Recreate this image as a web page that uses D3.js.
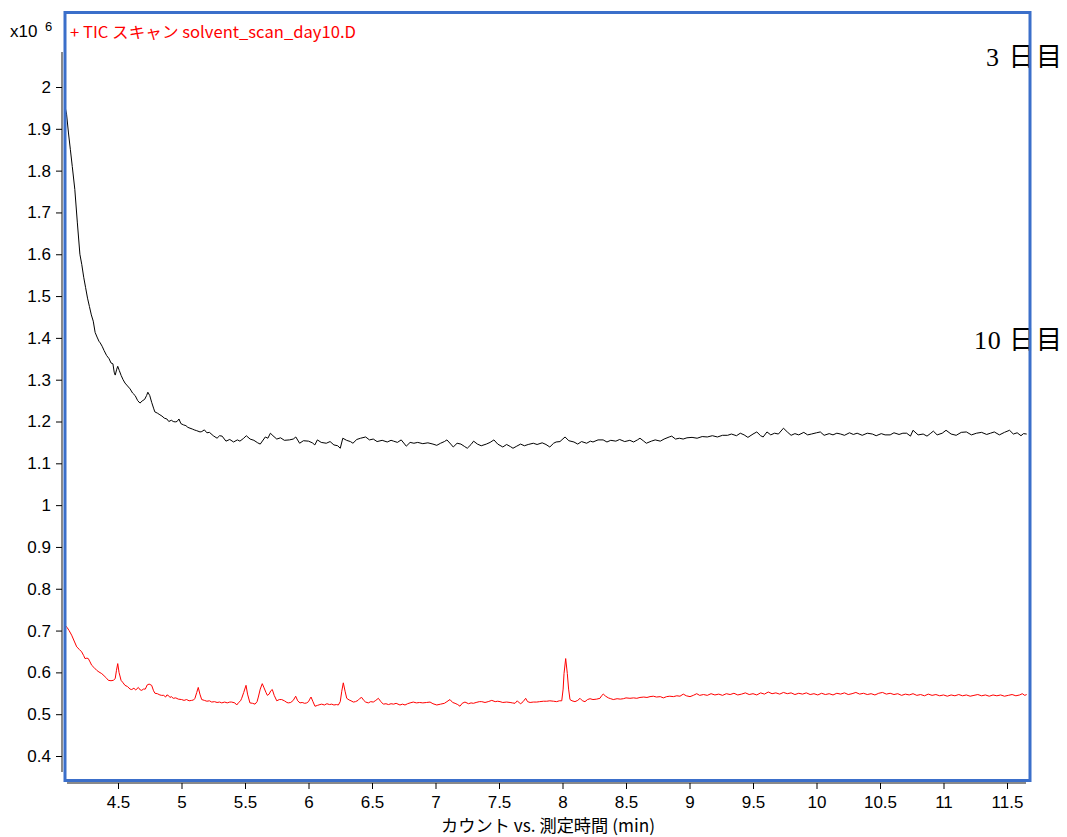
<!DOCTYPE html>
<html>
<head>
<meta charset="utf-8">
<script src="https://d3js.org/d3.v7.min.js"></script>
<style>
  body { margin: 0; background: #fff; }
  .tick text { font-family: "Liberation Sans Narrow", "Liberation Sans", Arial, sans-serif; font-size: 17px; fill: #000; }
</style>
</head>
<body>
<svg id="chart" width="1067" height="837"></svg>
<script>
// tick values for both axes
var xTicks = [4.5, 5, 5.5, 6, 6.5, 7, 7.5, 8, 8.5, 9, 9.5, 10, 10.5, 11, 11.5];
var yTicks = [0.4, 0.5, 0.6, 0.7, 0.8, 0.9, 1, 1.1, 1.2, 1.3, 1.4, 1.5, 1.6, 1.7, 1.8, 1.9, 2];

// 3 日目 (black) : [time (min), counts x10^6]
var day3 = [
  [4.085,1.950],[4.095,1.935],[4.11,1.89],[4.125,1.85],[4.14,1.81],[4.16,1.755],[4.18,1.675],[4.20,1.600],
  [4.215,1.575],[4.23,1.545],[4.245,1.52],[4.26,1.495],[4.275,1.475],[4.29,1.455],[4.305,1.440],[4.32,1.413],
  [4.335,1.402],[4.35,1.392],[4.36,1.388],[4.375,1.380],[4.39,1.370],[4.41,1.358],[4.43,1.350],[4.445,1.340],
  [4.46,1.338],[4.47,1.318],[4.478,1.311],[4.49,1.325],[4.498,1.332],[4.51,1.322],[4.525,1.310],[4.54,1.300],
  [4.555,1.292],[4.575,1.285],[4.595,1.278],[4.615,1.268],[4.635,1.262],[4.655,1.250],[4.673,1.244],[4.69,1.249],
  [4.71,1.253],[4.725,1.262],[4.735,1.270],[4.75,1.262],[4.765,1.246],[4.78,1.232],[4.79,1.223],[4.81,1.220],
  [4.83,1.216],[4.846,1.213],[4.865,1.208],[4.885,1.206],[4.90,1.200],[4.92,1.203],[4.935,1.200],[4.95,1.199],
  [4.965,1.200],[4.98,1.206],[4.995,1.195],[5.015,1.192],[5.035,1.190],[5.05,1.186],[5.067,1.184],[5.085,1.182],
  [5.10,1.180],[5.12,1.178],[5.146,1.175],[5.16,1.176],[5.18,1.180],[5.20,1.173],[5.22,1.174],[5.25,1.166],
  [5.28,1.160],[5.30,1.166],[5.32,1.165],[5.35,1.153],[5.38,1.157],[5.41,1.151],[5.44,1.156],[5.46,1.153],
  [5.49,1.160],[5.51,1.166],[5.54,1.158],[5.57,1.155],[5.60,1.149],[5.62,1.146],[5.66,1.163],[5.68,1.160],
  [5.70,1.172],[5.72,1.166],[5.75,1.158],[5.78,1.161],[5.81,1.155],[5.85,1.156],[5.88,1.158],[5.90,1.163],
  [5.93,1.148],[5.96,1.154],[6.00,1.153],[6.03,1.149],[6.05,1.144],[6.07,1.156],[6.10,1.150],[6.14,1.148],
  [6.17,1.152],[6.20,1.144],[6.23,1.142],[6.25,1.136],[6.27,1.160],[6.30,1.155],[6.33,1.152],[6.35,1.148],
  [6.38,1.157],[6.41,1.160],[6.45,1.163],[6.48,1.156],[6.51,1.158],[6.54,1.152],[6.58,1.155],[6.62,1.151],
  [6.65,1.155],[6.67,1.153],[6.70,1.150],[6.73,1.156],[6.77,1.141],[6.80,1.150],[6.83,1.148],[6.86,1.150],
  [6.90,1.147],[6.94,1.149],[6.98,1.146],[7.01,1.143],[7.04,1.148],[7.07,1.152],[7.09,1.156],[7.12,1.146],
  [7.14,1.139],[7.17,1.148],[7.20,1.146],[7.23,1.140],[7.25,1.136],[7.28,1.145],[7.30,1.153],[7.33,1.146],
  [7.36,1.142],[7.40,1.146],[7.43,1.150],[7.46,1.156],[7.49,1.146],[7.53,1.139],[7.56,1.145],[7.59,1.140],
  [7.61,1.136],[7.64,1.141],[7.67,1.146],[7.70,1.142],[7.73,1.145],[7.77,1.148],[7.80,1.145],[7.84,1.149],
  [7.87,1.145],[7.90,1.139],[7.93,1.148],[7.95,1.151],[7.98,1.152],[8.02,1.163],[8.05,1.154],[8.09,1.151],
  [8.12,1.146],[8.15,1.152],[8.19,1.148],[8.22,1.153],[8.24,1.151],[8.28,1.156],[8.32,1.156],[8.35,1.151],
  [8.38,1.155],[8.42,1.153],[8.45,1.157],[8.49,1.152],[8.53,1.155],[8.56,1.151],[8.59,1.156],[8.61,1.160],
  [8.64,1.153],[8.66,1.148],[8.70,1.153],[8.73,1.156],[8.77,1.153],[8.80,1.158],[8.84,1.163],[8.86,1.165],
  [8.89,1.158],[8.92,1.160],[8.95,1.158],[8.98,1.161],[9.02,1.162],[9.06,1.160],[9.10,1.164],[9.14,1.163],
  [9.18,1.166],[9.22,1.163],[9.26,1.167],[9.30,1.167],[9.33,1.170],[9.37,1.166],[9.40,1.172],[9.43,1.168],
  [9.46,1.162],[9.50,1.170],[9.53,1.175],[9.56,1.166],[9.58,1.163],[9.61,1.175],[9.64,1.168],[9.67,1.172],
  [9.70,1.170],[9.74,1.184],[9.77,1.175],[9.80,1.167],[9.83,1.171],[9.86,1.168],[9.90,1.174],[9.93,1.168],
  [9.96,1.170],[10.00,1.173],[10.03,1.175],[10.06,1.167],[10.10,1.171],[10.13,1.168],[10.16,1.172],[10.19,1.170],
  [10.22,1.167],[10.26,1.173],[10.29,1.169],[10.32,1.172],[10.36,1.167],[10.40,1.172],[10.44,1.170],[10.47,1.166],
  [10.51,1.171],[10.54,1.168],[10.58,1.168],[10.61,1.173],[10.65,1.169],[10.68,1.172],[10.71,1.172],[10.74,1.165],
  [10.76,1.179],[10.80,1.168],[10.84,1.170],[10.87,1.165],[10.90,1.172],[10.92,1.177],[10.95,1.168],[10.99,1.172],
  [11.02,1.179],[11.06,1.170],[11.10,1.167],[11.14,1.174],[11.18,1.175],[11.22,1.168],[11.26,1.172],[11.30,1.174],
  [11.34,1.169],[11.37,1.172],[11.40,1.175],[11.44,1.168],[11.48,1.174],[11.52,1.179],[11.55,1.170],[11.58,1.173],
  [11.61,1.166],[11.63,1.171],[11.655,1.170]
];

// 10 日目 (red)
var day10 = [
  [4.085,0.712],[4.10,0.707],[4.115,0.700],[4.135,0.689],[4.155,0.675],[4.175,0.661],[4.195,0.655],[4.214,0.649],
  [4.23,0.640],[4.24,0.633],[4.255,0.634],[4.266,0.633],[4.28,0.625],[4.293,0.617],[4.31,0.612],[4.332,0.605],
  [4.35,0.601],[4.372,0.597],[4.39,0.592],[4.41,0.586],[4.424,0.581],[4.445,0.580],[4.463,0.581],[4.478,0.585],
  [4.488,0.605],[4.498,0.621],[4.508,0.600],[4.524,0.581],[4.54,0.575],[4.555,0.569],[4.575,0.566],[4.595,0.560],
  [4.608,0.559],[4.625,0.562],[4.64,0.558],[4.66,0.564],[4.675,0.558],[4.687,0.557],[4.70,0.560],[4.715,0.560],
  [4.73,0.570],[4.745,0.572],[4.765,0.569],[4.78,0.556],[4.791,0.550],[4.81,0.549],[4.83,0.546],[4.844,0.545],
  [4.86,0.545],[4.875,0.541],[4.885,0.546],[4.896,0.545],[4.909,0.540],[4.92,0.542],[4.935,0.538],[4.955,0.539],
  [4.975,0.536],[5.001,0.535],[5.02,0.533],[5.04,0.535],[5.06,0.532],[5.08,0.533],[5.095,0.534],[5.106,0.538],
  [5.12,0.552],[5.132,0.564],[5.145,0.548],[5.159,0.535],[5.18,0.533],[5.20,0.531],[5.22,0.532],[5.238,0.529],
  [5.26,0.530],[5.28,0.528],[5.30,0.529],[5.317,0.527],[5.34,0.529],[5.36,0.527],[5.38,0.529],[5.395,0.529],
  [5.42,0.527],[5.435,0.522],[5.45,0.528],[5.465,0.532],[5.474,0.538],[5.49,0.552],[5.508,0.569],[5.52,0.548],
  [5.539,0.527],[5.56,0.526],[5.579,0.524],[5.595,0.530],[5.605,0.541],[5.62,0.560],[5.636,0.573],[5.65,0.563],
  [5.665,0.552],[5.676,0.545],[5.69,0.548],[5.703,0.556],[5.715,0.559],[5.73,0.545],[5.75,0.532],[5.77,0.535],
  [5.789,0.535],[5.81,0.532],[5.83,0.528],[5.841,0.527],[5.86,0.528],[5.88,0.533],[5.899,0.543],[5.915,0.532],
  [5.933,0.527],[5.95,0.528],[5.97,0.526],[5.986,0.527],[6.00,0.530],[6.01,0.536],[6.02,0.541],[6.035,0.530],
  [6.051,0.519],[6.07,0.521],[6.09,0.523],[6.104,0.524],[6.125,0.522],[6.145,0.525],[6.165,0.523],[6.183,0.524],
  [6.20,0.522],[6.22,0.523],[6.235,0.522],[6.25,0.530],[6.262,0.555],[6.274,0.575],[6.288,0.555],[6.301,0.538],
  [6.32,0.534],[6.335,0.532],[6.353,0.529],[6.37,0.530],[6.39,0.533],[6.405,0.538],[6.419,0.540],[6.435,0.533],
  [6.45,0.529],[6.471,0.527],[6.49,0.530],[6.51,0.529],[6.53,0.533],[6.55,0.538],[6.57,0.530],[6.589,0.524],
  [6.61,0.525],[6.63,0.523],[6.65,0.525],[6.67,0.524],[6.69,0.526],[6.72,0.522],[6.74,0.524],[6.76,0.522],
  [6.78,0.525],[6.80,0.527],[6.825,0.529],[6.85,0.527],[6.875,0.528],[6.90,0.527],[6.93,0.528],[6.957,0.529],
  [6.98,0.525],[7.01,0.522],[7.04,0.524],[7.07,0.526],[7.09,0.530],[7.114,0.535],[7.135,0.528],[7.154,0.526],
  [7.175,0.523],[7.193,0.519],[7.21,0.526],[7.232,0.529],[7.26,0.525],[7.28,0.527],[7.298,0.526],[7.32,0.528],
  [7.345,0.530],[7.364,0.530],[7.39,0.528],[7.415,0.530],[7.443,0.533],[7.47,0.530],[7.49,0.531],[7.508,0.530],
  [7.53,0.528],[7.56,0.529],[7.587,0.528],[7.605,0.527],[7.626,0.526],[7.644,0.532],[7.66,0.527],[7.671,0.525],
  [7.69,0.530],[7.71,0.538],[7.725,0.530],[7.745,0.528],[7.77,0.529],[7.797,0.529],[7.82,0.530],[7.85,0.531],
  [7.876,0.531],[7.90,0.532],[7.93,0.531],[7.954,0.530],[7.975,0.532],[7.994,0.532],[8.005,0.560],[8.012,0.597],
  [8.025,0.633],[8.038,0.597],[8.048,0.560],[8.059,0.535],[8.075,0.532],[8.098,0.530],[8.12,0.533],[8.138,0.538],
  [8.157,0.532],[8.177,0.530],[8.197,0.535],[8.217,0.537],[8.24,0.535],[8.269,0.536],[8.295,0.538],[8.31,0.545],
  [8.321,0.548],[8.34,0.543],[8.361,0.539],[8.38,0.537],[8.40,0.535],[8.43,0.537],[8.455,0.536],[8.479,0.537],
  [8.50,0.539],[8.531,0.538],[8.56,0.539],[8.585,0.538],[8.61,0.540],[8.64,0.541],[8.665,0.540],[8.689,0.542],
  [8.715,0.543],[8.74,0.541],[8.77,0.542],[8.794,0.539],[8.82,0.542],[8.845,0.543],[8.873,0.542],[8.90,0.544],
  [8.925,0.543],[8.951,0.548],[8.975,0.544],[9.004,0.542],[9.03,0.545],[9.057,0.549],[9.08,0.545],[9.11,0.547],
  [9.14,0.545],[9.17,0.549],[9.20,0.546],[9.23,0.548],[9.26,0.545],[9.29,0.549],[9.32,0.547],[9.35,0.550],
  [9.38,0.546],[9.41,0.548],[9.44,0.551],[9.47,0.547],[9.50,0.549],[9.53,0.546],[9.56,0.551],[9.59,0.548],
  [9.62,0.553],[9.65,0.549],[9.68,0.551],[9.71,0.548],[9.74,0.552],[9.77,0.549],[9.80,0.551],[9.83,0.547],
  [9.86,0.550],[9.89,0.548],[9.92,0.551],[9.95,0.547],[9.98,0.549],[10.01,0.546],[10.04,0.550],[10.07,0.547],
  [10.10,0.549],[10.13,0.546],[10.16,0.550],[10.19,0.548],[10.22,0.551],[10.25,0.547],[10.28,0.549],[10.31,0.552],
  [10.34,0.548],[10.37,0.550],[10.40,0.547],[10.43,0.549],[10.46,0.546],[10.49,0.550],[10.52,0.552],[10.55,0.548],
  [10.58,0.550],[10.61,0.547],[10.64,0.549],[10.67,0.545],[10.70,0.548],[10.73,0.546],[10.76,0.549],[10.79,0.545],
  [10.82,0.547],[10.85,0.544],[10.88,0.548],[10.91,0.545],[10.94,0.547],[10.97,0.544],[11.00,0.546],[11.03,0.543],
  [11.06,0.546],[11.09,0.544],[11.12,0.547],[11.15,0.544],[11.18,0.546],[11.21,0.543],[11.24,0.545],[11.27,0.547],
  [11.30,0.544],[11.33,0.546],[11.36,0.543],[11.39,0.546],[11.42,0.544],[11.45,0.546],[11.48,0.543],[11.51,0.545],
  [11.54,0.547],[11.57,0.544],[11.60,0.546],[11.62,0.549],[11.64,0.545],[11.655,0.547]
];

var legendText = "+ TIC スキャン solvent_scan_day10.D";
var xTitle = "カウント vs. 測定時間 (min)";
var labels = [{text: "3 日目", y: 2.072, len: 76}, {text: "10 日目", y: 1.395, len: 88}];

var svg = d3.select("#chart");

// scales
var x = d3.scaleLinear().domain([4.5, 11.5]).range([118, 1007]);
var y = d3.scaleLinear().domain([0.4, 2]).range([756, 87]);

// gray axis lines
svg.append("line")
  .attr("x1", 62).attr("x2", 62).attr("y1", 52).attr("y2", 772)
  .attr("stroke", "#8a8a8a").attr("stroke-width", 2);
svg.append("line")
  .attr("x1", 67).attr("x2", 1026).attr("y1", 783).attr("y2", 783)
  .attr("stroke", "#8a8a8a").attr("stroke-width", 2);

// y axis
var yAxis = svg.append("g")
  .attr("transform", "translate(62,0)")
  .call(d3.axisLeft(y).tickValues(yTicks).tickFormat(d3.format("~g")).tickSize(6).tickPadding(5).tickSizeOuter(0));
yAxis.select(".domain").remove();

// x axis
var xAxis = svg.append("g")
  .attr("transform", "translate(0,783)")
  .call(d3.axisBottom(x).tickValues(xTicks).tickFormat(d3.format("~g")).tickSize(6).tickPadding(7).tickSizeOuter(0));
xAxis.select(".domain").remove();

// x10^6 multiplier
svg.append("text")
  .attr("x", 10).attr("y", 37)
  .attr("font-family", "'Liberation Sans Narrow', 'Liberation Sans', sans-serif")
  .attr("font-size", 17)
  .text("x10");
svg.append("text")
  .attr("x", 45).attr("y", 31)
  .attr("font-family", "'Liberation Sans Narrow', 'Liberation Sans', sans-serif")
  .attr("font-size", 13)
  .text("6");

// series
var line = d3.line()
  .x(function(d) { return x(d[0]); })
  .y(function(d) { return y(d[1]); });

svg.append("path")
  .datum(day3)
  .attr("fill", "none")
  .attr("stroke", "#000")
  .attr("stroke-width", 1)
  .attr("d", line);

svg.append("path")
  .datum(day10)
  .attr("fill", "none")
  .attr("stroke", "#ff0000")
  .attr("stroke-width", 1)
  .attr("d", line);

// legend
svg.append("text")
  .attr("x", 70).attr("y", 38)
  .attr("fill", "#ff0000")
  .attr("font-family", "'Noto Sans CJK JP', sans-serif")
  .attr("font-size", 16)
  .attr("textLength", 286)
  .attr("lengthAdjust", "spacingAndGlyphs")
  .text(legendText);

// x title
svg.append("text")
  .attr("x", 441).attr("y", 832)
  .attr("font-family", "'Noto Sans CJK JP', sans-serif")
  .attr("font-size", 17)
  .attr("textLength", 214)
  .attr("lengthAdjust", "spacingAndGlyphs")
  .text(xTitle);

// day labels on the right
svg.selectAll(".daylabel")
  .data(labels)
  .enter().append("text")
    .attr("class", "daylabel")
    .attr("x", function(d) { return 1062 - d.len; })
    .attr("y", function(d) { return y(d.y) + 9; })
    .attr("font-family", "'Liberation Serif', 'Noto Sans CJK JP', serif")
    .attr("font-size", 26)
    .attr("textLength", function(d) { return d.len; })
    .attr("lengthAdjust", "spacing")
    .text(function(d) { return d.text; });

// blue frame on top
svg.append("rect")
  .attr("x", 65).attr("y", 12.5)
  .attr("width", 965).attr("height", 768)
  .attr("fill", "none")
  .attr("stroke", "#3b6fca")
  .attr("stroke-width", 3);
</script>
</body>
</html>
